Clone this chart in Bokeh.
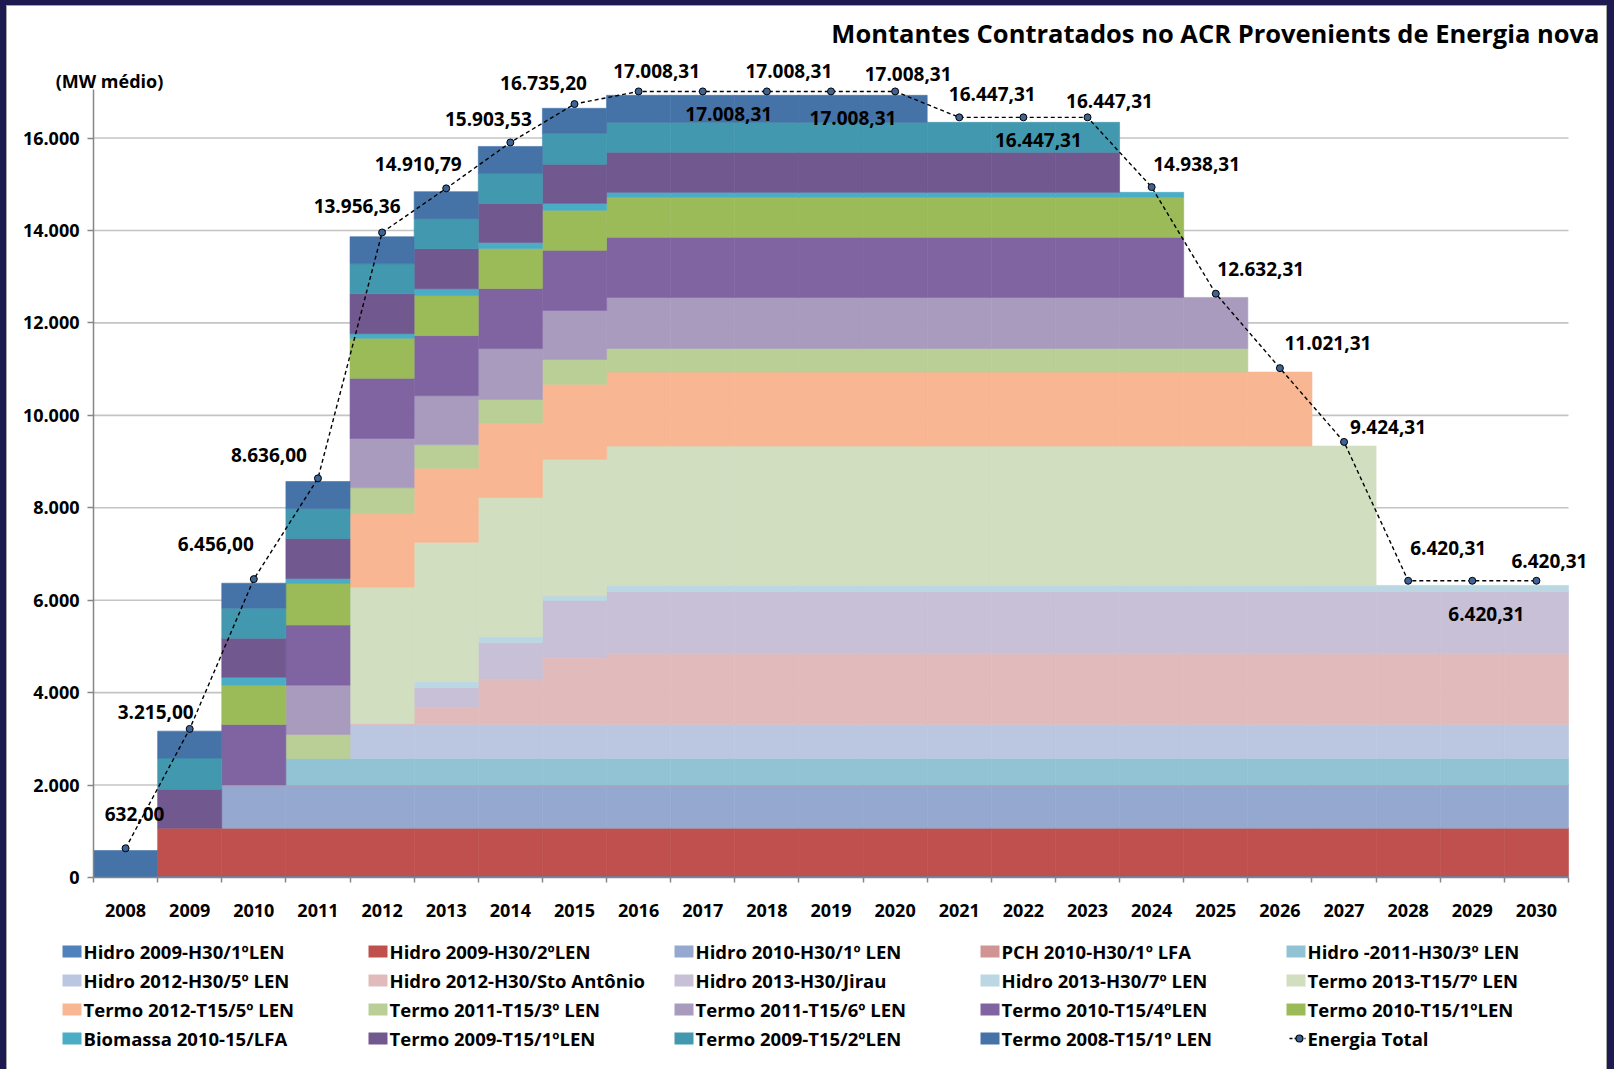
from bokeh.plotting import figure
from bokeh.models import Range1d, FixedTicker, Label, ColumnDataSource
from bokeh.core.properties import value
from bokeh.embed import file_html
from bokeh.resources import INLINE

# ---------------- data ----------------
years = [2008, 2009, 2010, 2011, 2012, 2013, 2014, 2015, 2016, 2017, 2018, 2019,
         2020, 2021, 2022, 2023, 2024, 2025, 2026, 2027, 2028, 2029, 2030]

series_names = [
    "Hidro 2009-H30/1ºLEN", "Hidro 2009-H30/2ºLEN", "Hidro 2010-H30/1º LEN",
    "PCH 2010-H30/1º LFA", "Hidro -2011-H30/3º LEN", "Hidro 2012-H30/5º LEN",
    "Hidro 2012-H30/Sto Antônio", "Hidro 2013-H30/Jirau", "Hidro 2013-H30/7º LEN",
    "Termo 2013-T15/7º LEN", "Termo 2012-T15/5º LEN", "Termo 2011-T15/3º LEN",
    "Termo 2011-T15/6º LEN", "Termo 2010-T15/4ºLEN", "Termo 2010-T15/1ºLEN",
    "Biomassa  2010-15/LFA", "Termo 2009-T15/1ºLEN", "Termo 2009-T15/2ºLEN",
    "Termo 2008-T15/1º LEN",
]
total_name = "Energia Total"

#                    08    09    10    11    12    13    14    15    16    17    18    19    20    21    22    23    24    25    26    27    28    29    30
hidro_2009_1len  = [   0,   30,   30,   30,   30,   30,   30,   30,   30,   30,   30,   30,   30,   30,   30,   30,   30,   30,   30,   30,   30,   30,   30]
hidro_2009_2len  = [   0, 1038, 1038, 1038, 1038, 1038, 1038, 1038, 1038, 1038, 1038, 1038, 1038, 1038, 1038, 1038, 1038, 1038, 1038, 1038, 1038, 1038, 1038]
hidro_2010_1len  = [   0,    0,  915,  915,  915,  915,  915,  915,  915,  915,  915,  915,  915,  915,  915,  915,  915,  915,  915,  915,  915,  915,  915]
pch_2010_lfa     = [   0,    0,   20,   20,   20,   20,   20,   20,   20,   20,   20,   20,   20,   20,   20,   20,   20,   20,   20,   20,   20,   20,   20]
hidro_2011_3len  = [   0,    0,    0,  573,  573,  573,  573,  573,  573,  573,  573,  573,  573,  573,  573,  573,  573,  573,  573,  573,  573,  573,  573]
hidro_2012_5len  = [   0,    0,    0,    0,  736,  736,  736,  736,  736,  736,  736,  736,  736,  736,  736,  736,  736,  736,  736,  736,  736,  736,  736]
hidro_2012_sto   = [   0,    0,    0,    0,   20,  368,  974, 1450, 1529, 1529, 1529, 1529, 1529, 1529, 1529, 1529, 1529, 1529, 1529, 1529, 1529, 1529, 1529]
hidro_2013_jirau = [   0,    0,    0,    0,    0,  433,  801, 1228, 1349, 1349, 1349, 1349, 1349, 1349, 1349, 1349, 1349, 1349, 1349, 1349, 1349, 1349, 1349]
hidro_2013_7len  = [   0,    0,    0,    0,    0,  130,  130,  100,  130,  130,  130,  130,  130,  130,  130,  130,  130,  130,  130,  130,  130,  130,  130]
termo_2013_7len  = [   0,    0,    0,    0, 2950, 3010, 3005, 2960, 3015, 3015, 3015, 3015, 3015, 3015, 3015, 3015, 3015, 3015, 3015, 3015,    0,    0,    0]
termo_2012_5len  = [   0,    0,    0,    0, 1590, 1600, 1600, 1620, 1600, 1600, 1600, 1600, 1600, 1600, 1600, 1600, 1600, 1600, 1600,    0,    0,    0,    0]
termo_2011_3len  = [   0,    0,    0,  520,  560,  512,  520,  540,  512,  512,  512,  512,  512,  512,  512,  512,  512,  512,    0,    0,    0,    0,    0]
termo_2011_6len  = [   0,    0,    0, 1065, 1068, 1060, 1103, 1060, 1104, 1104, 1104, 1104, 1104, 1104, 1104, 1104, 1104, 1104,    0,    0,    0,    0,    0]
termo_2010_4len  = [   0,    0, 1310, 1300, 1300, 1300, 1300, 1300, 1300, 1300, 1300, 1300, 1300, 1300, 1300, 1300, 1300,    0,    0,    0,    0,    0,    0]
termo_2010_1len  = [   0,    0,  850,  900,  866,  866,  866,  866,  866,  866,  866,  866,  866,  866,  866,  866,  866,    0,    0,    0,    0,    0,    0]
biomassa_2010    = [   0,    0,  170,  108,  100,  150,  130,  151,  108,  108,  108,  108,  108,  108,  108,  108,  108,    0,    0,    0,    0,    0,    0]
termo_2009_1len  = [   0,  844,  844,  866,  865,  866,  844,  844,  866,  866,  866,  866,  866,  866,  866,  866,    0,    0,    0,    0,    0,    0,    0]
termo_2009_2len  = [   0,  671,  650,  649,  649,  649,  649,  671,  649,  649,  649,  649,  649,  649,  649,  649,    0,    0,    0,    0,    0,    0,    0]
termo_2008_1len  = [ 584,  584,  541,  584,  584,  584,  584,  541,  584,  584,  584,  584,  584,    0,    0,    0,    0,    0,    0,    0,    0,    0,    0]

energia_total = [632.00, 3215.00, 6456.00, 8636.00, 13956.36, 14910.79, 15903.53, 16735.20,
                 17008.31, 17008.31, 17008.31, 17008.31, 17008.31, 16447.31, 16447.31, 16447.31,
                 14938.31, 12632.31, 11021.31, 9424.31, 6420.31, 6420.31, 6420.31]

y_ticks = [0, 2000, 4000, 6000, 8000, 10000, 12000, 14000, 16000]

series_values = [hidro_2009_1len, hidro_2009_2len, hidro_2010_1len, pch_2010_lfa,
                 hidro_2011_3len, hidro_2012_5len, hidro_2012_sto, hidro_2013_jirau,
                 hidro_2013_7len, termo_2013_7len, termo_2012_5len, termo_2011_3len,
                 termo_2011_6len, termo_2010_4len, termo_2010_1len, biomassa_2010,
                 termo_2009_1len, termo_2009_2len, termo_2008_1len]

# ---------------- styles ----------------
colors = ["#4F81BD", "#C0504D", "#95A9D0", "#D09593", "#92C3D4", "#BBC7E0",
          "#E1BBBB", "#C8C0D6", "#BBD7E3", "#D1DEC0", "#F8B692", "#BACF96",
          "#A99BBE", "#8064A2", "#9BBB59", "#4BACC6", "#71588F", "#4198AF",
          "#4573A7"]

# label placement offsets in screen pixels (x right, y down)
lab_dx = [9, -34, -38, -49, -25, -28, -22, -31, 18, 26, 22, 22, 13, 33, 15, 22, 45, 45, 48, 44, 40, 14, 13]
lab_dy = [-34, -17, -35, -23, -26, -24, -23, -21, -20, 23, -20, 27, -17, -23, 23, -16, -23, -25, -25, -15, -33, 33, -20]

FONT = "Open Sans"
W, H = 1614, 1069
LEFT, RIGHT, TOP, BOTTOM = 93, 10, 13, 192
PX_PER_YEAR = 1475 / 23.0
UNITS_PER_PX = 17050 / 788.0
AXIS_TOP = 17050

# legend grid (screen pixels)
LEG_X0, LEG_DX, LEG_Y0, LEG_DY, LEG_COLS = 62, 306, 951, 29, 5
SW_W, SW_H = 19, 12

N = len(years)
frame_w = W - LEFT - RIGHT
frame_h = H - TOP - BOTTOM
frame_bottom = H - BOTTOM

def br(v, dec):
    s = f"{v:,.{dec}f}"
    return s.replace(",", "X").replace(".", ",").replace("X", ".")

def sx2x(sx):
    return -0.5 + (sx - LEFT) / PX_PER_YEAR

def sy2y(sy):
    return (frame_bottom - sy) * UNITS_PER_PX

p = figure(width=W, height=H, output_backend="svg", toolbar_location=None,
           x_range=Range1d(-0.5, -0.5 + frame_w / PX_PER_YEAR),
           y_range=Range1d(0, frame_h * UNITS_PER_PX),
           min_border_left=LEFT, min_border_right=RIGHT,
           min_border_top=TOP, min_border_bottom=BOTTOM)
p.outline_line_color = None
p.background_fill_color = "white"
p.border_fill_color = "white"
p.border_fill_alpha = 0.0
p.xgrid.visible = False
p.ygrid.visible = False
NAVY, GREY = "#1c1a50", "#a6a6a6"
p.styles = {"background-color": "white",
            "box-shadow": (f"inset 6px 0 0 0 {NAVY}, inset -7px 0 0 0 {NAVY}, "
                           f"inset 0 5px 0 0 {NAVY}, inset 7px 0 0 0 {GREY}, "
                           f"inset -8px 0 0 0 {GREY}, inset 0 6px 0 0 {GREY}")}

# gridlines
gy = y_ticks[1:]
p.segment(x0=[-0.5] * len(gy), x1=[N - 0.5] * len(gy), y0=gy, y1=gy,
          line_color="#c4c4c4", line_width=1.6)

# stacked bars
cum = [0.0] * N
for name, vals, col in zip(series_names, series_values, colors):
    d = dict(left=[], right=[], bottom=[], top=[])
    for i, v in enumerate(vals):
        if v > 0:
            d["left"].append(i - 0.5)
            d["right"].append(i + 0.5)
            d["bottom"].append(cum[i])
            d["top"].append(cum[i] + v)
        cum[i] += v
    p.quad(left="left", right="right", bottom="bottom", top="top",
           source=ColumnDataSource(d), fill_color=col, line_color=col,
           line_width=0.6)

# total line
xc = list(range(N))
p.line(xc, energia_total, line_color="black", line_dash="4 3", line_width=1.4)
p.scatter(xc, energia_total, size=7, fill_color="#3D6496", line_color="black",
          line_width=1)

lab_src = ColumnDataSource(dict(x=xc, y=energia_total,
                                t=[br(v, 2) for v in energia_total],
                                dx=lab_dx, dy=lab_dy))
p.text(x="x", y="y", text="t", x_offset="dx", y_offset="dy", source=lab_src,
       text_align="center", text_baseline="middle", text_color="black",
       text_font=value(FONT), text_font_style="bold", text_font_size="19px")

# axes
xa = p.xaxis[0]
xa.ticker = FixedTicker(ticks=xc, minor_ticks=[i - 0.5 for i in range(N + 1)])
xa.major_label_overrides = {i: str(y) for i, y in enumerate(years)}
xa.bounds = (-0.5, N - 0.5)
xa.axis_line_color = "#868686"
xa.axis_line_width = 1.5
xa.major_tick_out = 0
xa.major_tick_in = 0
xa.minor_tick_out = 5
xa.minor_tick_in = 0
xa.minor_tick_line_color = "#868686"
xa.minor_tick_line_width = 1.5
xa.major_label_standoff = 21
xa.major_label_text_font = FONT
xa.major_label_text_font_style = "bold"
xa.major_label_text_font_size = "18px"
xa.major_label_text_color = "black"

ya = p.yaxis[0]
ya.ticker = FixedTicker(ticks=y_ticks, minor_ticks=[])
ya.major_label_overrides = {t: br(t, 0) for t in y_ticks}
ya.bounds = (0, AXIS_TOP)
ya.axis_line_color = "#868686"
ya.axis_line_width = 1.5
ya.major_tick_out = 6
ya.major_tick_in = 0
ya.major_tick_line_color = "#868686"
ya.major_tick_line_width = 1.5
ya.major_label_standoff = 8
ya.major_label_text_font = FONT
ya.major_label_text_font_style = "bold"
ya.major_label_text_font_size = "18px"
ya.major_label_text_color = "black"

# title
p.add_layout(Label(x=1599 - LEFT, y=frame_bottom - 32, x_units="screen", y_units="screen",
                   text="Montantes Contratados no ACR Provenients de Energia nova",
                   text_align="right", text_baseline="middle", text_font=FONT,
                   text_font_style="bold", text_font_size="25.5px", text_color="black"))

# unit label, anchored at the top of the value axis
p.text(x=[-0.5], y=[AXIS_TOP], text=["(MW médio)"], x_offset=16, y_offset=-9,
       text_align="center", text_baseline="middle", text_color="black",
       text_font=value(FONT), text_font_style="bold", text_font_size="18px",
       level="overlay")

# legend (drawn as overlay glyphs below the axis)
leg_names = series_names + [total_name]
sw = dict(x=[], y=[], c=[])
lt = dict(x=[], y=[], t=[])
for k, name in enumerate(leg_names):
    r, c = divmod(k, LEG_COLS)
    sx0 = LEG_X0 + LEG_DX * c
    sy0 = LEG_Y0 + LEG_DY * r
    if k < len(series_names):
        sw["x"].append(sx2x(sx0 + SW_W / 2))
        sw["y"].append(sy2y(sy0))
        sw["c"].append(colors[k])
    else:
        tot_x0, tot_x1, tot_y = sx2x(sx0 + 3), sx2x(sx0 + SW_W), sy2y(sy0)
        tot_xm = sx2x(sx0 + 13)
    lt["x"].append(sx2x(sx0 + SW_W + 2))
    lt["y"].append(sy2y(sy0))
    lt["t"].append(name)

p.rect(x="x", y="y", width=SW_W, height=SW_H, width_units="screen", height_units="screen",
       fill_color="c", line_color=None, source=ColumnDataSource(sw), level="overlay")
p.segment(x0=[tot_x0], x1=[tot_x1], y0=[tot_y], y1=[tot_y], line_color="black",
          line_dash="3 2", line_width=1.4, level="overlay")
p.ellipse(x=[tot_xm], y=[tot_y], width=7, height=7, width_units="screen",
          height_units="screen", fill_color="#3D6496", line_color="black",
          line_width=1.2, level="overlay")
p.text(x="x", y="y", text="t", source=ColumnDataSource(lt), text_align="left",
       text_baseline="middle", text_color="black", text_font=value(FONT),
       text_font_style="bold", text_font_size="18.5px", level="overlay")

open("out.html", "w").write(file_html(p, INLINE))
